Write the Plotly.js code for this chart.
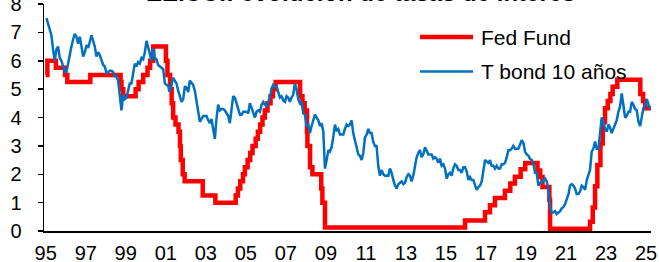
<!DOCTYPE html>
<html>
<head>
<meta charset="utf-8">
<script src="https://cdn.plot.ly/plotly-3.0.1.min.js"></script>
<style>
  html, body { margin: 0; padding: 0; background: #ffffff; }
  #chart { width: 659px; height: 262px; }
</style>
</head>
<body>
<div id="chart"></div>
<script>
// Fed Funds effective rate: dates of changes and level after each change
const fedDates = [
  '1995-01-01','1995-02-01','1995-07-06','1995-12-19','1996-01-31','1997-03-25',
  '1998-09-29','1998-10-15','1998-11-17','1999-06-30','1999-08-24','1999-11-16',
  '2000-02-02','2000-03-21','2000-05-16','2001-01-03','2001-01-31','2001-03-20',
  '2001-04-18','2001-05-15','2001-06-27','2001-08-21','2001-09-17','2001-10-02',
  '2001-11-06','2001-12-11','2002-11-06','2003-06-25','2004-06-30','2004-08-10',
  '2004-09-21','2004-11-10','2004-12-14','2005-02-02','2005-03-22','2005-05-03',
  '2005-06-30','2005-08-09','2005-09-20','2005-11-01','2005-12-13','2006-01-31',
  '2006-03-28','2006-05-10','2006-06-29','2007-09-18','2007-10-31','2007-12-11',
  '2008-01-22','2008-01-30','2008-03-18','2008-04-30','2008-10-08','2008-10-29',
  '2008-12-16','2015-12-16','2016-12-14','2017-03-15','2017-06-14','2017-12-13',
  '2018-03-21','2018-06-13','2018-09-26','2018-12-19','2019-07-31','2019-09-18',
  '2019-10-30','2020-03-03','2020-03-16','2022-03-16','2022-05-04','2022-06-15',
  '2022-07-27','2022-09-21','2022-11-02','2022-12-14','2023-02-01','2023-03-22',
  '2023-05-03','2023-07-26','2024-09-18','2024-11-07','2024-12-18','2025-03-31'
];
const fedRate = [
  5.5, 6.0, 5.75, 5.5, 5.25, 5.5,
  5.25, 5.0, 4.75, 5.0, 5.25, 5.5,
  5.75, 6.0, 6.5, 6.0, 5.5, 5.0,
  4.5, 4.0, 3.75, 3.5, 3.0, 2.5,
  2.0, 1.75, 1.25, 1.0, 1.25, 1.5,
  1.75, 2.0, 2.25, 2.5, 2.75, 3.0,
  3.25, 3.5, 3.75, 4.0, 4.25, 4.5,
  4.75, 5.0, 5.25, 4.75, 4.5, 4.25,
  3.5, 3.0, 2.25, 2.0, 1.5, 1.0,
  0.12, 0.37, 0.66, 0.91, 1.16, 1.42,
  1.67, 1.91, 2.18, 2.40, 2.13, 1.90,
  1.55, 1.10, 0.08, 0.33, 0.83, 1.58,
  2.33, 3.08, 3.83, 4.33, 4.58, 4.83,
  5.08, 5.33, 4.83, 4.58, 4.33, 4.33
];

// 10-year Treasury yield, monthly, starting January 1995
const tbondStartYear = 1995;
const tbond10 = [
  7.5, 7.3, 7.1, 6.9, 6.4, 6.0, 6.4, 6.5, 6.1, 6.0, 5.8, 5.6,        // 1995
  5.6, 5.9, 6.3, 6.5, 6.75, 6.95, 6.85, 6.6, 6.85, 6.5, 6.15, 6.3,   // 1996
  6.55, 6.45, 6.7, 6.9, 6.7, 6.5, 6.15, 6.3, 6.2, 6.0, 5.85, 5.8,    // 1997
  5.55, 5.6, 5.65, 5.65, 5.6, 5.45, 5.45, 5.3, 4.8, 4.25, 4.8, 4.65, // 1998
  4.7, 5.0, 5.2, 5.2, 5.55, 5.9, 5.8, 5.95, 5.9, 6.1, 6.05, 6.3,     // 1999
  6.7, 6.5, 6.25, 6.0, 6.45, 6.1, 6.05, 5.85, 5.8, 5.75, 5.7, 5.2,   // 2000
  5.15, 5.1, 4.9, 5.15, 5.4, 5.3, 5.2, 4.95, 4.7, 4.55, 4.65, 5.1,   // 2001
  5.05, 4.9, 5.3, 5.2, 5.15, 4.95, 4.6, 4.25, 3.85, 3.95, 4.05, 4.05,// 2002
  4.05, 3.9, 3.8, 3.95, 3.55, 3.25, 3.95, 4.45, 4.25, 4.3, 4.3, 4.25,// 2003
  4.15, 4.05, 3.8, 4.35, 4.75, 4.7, 4.5, 4.3, 4.1, 4.1, 4.2, 4.2,    // 2004
  4.2, 4.15, 4.5, 4.35, 4.15, 4.0, 4.2, 4.25, 4.2, 4.45, 4.55, 4.45, // 2005
  4.4, 4.55, 4.7, 5.0, 5.15, 5.1, 5.1, 4.9, 4.7, 4.75, 4.6, 4.55,    // 2006
  4.75, 4.7, 4.55, 4.7, 4.8, 5.2, 5.0, 4.65, 4.5, 4.55, 4.15, 4.1,   // 2007
  3.7, 3.75, 3.45, 3.7, 3.9, 4.1, 4.0, 3.9, 3.7, 3.8, 3.5, 2.2,      // 2008
  2.5, 2.85, 2.8, 2.95, 3.3, 3.75, 3.55, 3.6, 3.4, 3.4, 3.4, 3.6,    // 2009
  3.75, 3.7, 3.75, 3.9, 3.45, 3.2, 3.0, 2.7, 2.65, 2.5, 2.75, 3.3,   // 2010
  3.4, 3.6, 3.45, 3.45, 3.15, 3.0, 3.0, 2.3, 1.95, 2.15, 2.0, 1.95,  // 2011
  1.95, 1.95, 2.2, 2.05, 1.8, 1.6, 1.5, 1.65, 1.7, 1.75, 1.65, 1.7,  // 2012
  1.9, 2.0, 1.95, 1.75, 1.95, 2.3, 2.6, 2.75, 2.85, 2.6, 2.7, 2.95,  // 2013
  2.85, 2.7, 2.7, 2.7, 2.55, 2.6, 2.55, 2.4, 2.55, 2.3, 2.35, 2.2,   // 2014
  1.85, 2.0, 2.05, 1.95, 2.2, 2.35, 2.3, 2.15, 2.15, 2.05, 2.25, 2.25,// 2015
  2.1, 1.8, 1.9, 1.8, 1.8, 1.6, 1.45, 1.55, 1.6, 1.75, 2.15, 2.5,    // 2016
  2.45, 2.4, 2.5, 2.3, 2.3, 2.2, 2.3, 2.2, 2.2, 2.35, 2.35, 2.4,     // 2017
  2.6, 2.85, 2.85, 2.9, 3.0, 2.9, 2.9, 2.9, 3.05, 3.2, 3.1, 2.8,     // 2018
  2.7, 2.65, 2.55, 2.5, 2.4, 2.05, 2.05, 1.6, 1.7, 1.7, 1.8, 1.85,   // 2019
  1.75, 1.45, 0.85, 0.65, 0.65, 0.7, 0.6, 0.65, 0.7, 0.8, 0.85, 0.95,// 2020
  1.1, 1.3, 1.6, 1.65, 1.6, 1.5, 1.3, 1.3, 1.4, 1.6, 1.55, 1.45,     // 2021
  1.8, 1.95, 2.15, 2.8, 2.9, 3.15, 2.9, 2.9, 3.55, 4.0, 3.85, 3.6,   // 2022
  3.5, 3.75, 3.65, 3.45, 3.6, 3.75, 3.9, 4.2, 4.4, 4.85, 4.45, 4.0,  // 2023
  4.05, 4.2, 4.2, 4.55, 4.45, 4.3, 4.25, 3.85, 3.7, 4.1, 4.35, 4.4,  // 2024
  4.65, 4.45, 4.3                                                   // 2025
];

const tickYears = [1995, 1997, 1999, 2001, 2003, 2005, 2007, 2009, 2011, 2013, 2015, 2017, 2019, 2021, 2023, 2025];
const tickText = ['95','97','99','01','03','05','07','09','11','13','15','17','19','21','23','25'];
const seriesNames = ['Fed Fund', 'T bond 10 años'];
const chartTitle = 'EE.UU.: evolución de tasas de interés';

const tbondDates = tbond10.map((v, i) => {
  const y = tbondStartYear + Math.floor(i / 12);
  const m = (i % 12) + 1;
  return y + '-' + String(m).padStart(2, '0') + '-15';
});

const FONT = 'Liberation Sans, Arial, sans-serif';
const RED = '#FF0000';
const BLUE = '#0070C0';

const traces = [
  {
    x: fedDates, y: fedRate, name: seriesNames[0], type: 'scatter', mode: 'lines',
    line: { color: RED, width: 4.5, shape: 'hv' }, showlegend: false, hoverinfo: 'skip'
  },
  {
    x: tbondDates, y: tbond10, name: seriesNames[1], type: 'scatter', mode: 'lines',
    line: { color: BLUE, width: 2.5 }, showlegend: false, hoverinfo: 'skip'
  }
];

// legend drawn as key lines + labels in paper coordinates
const legX0 = (420 - 44) / 607, legX1 = (473 - 44) / 607, legTX = (479 - 44) / 607;
const legY = [(231 - 37) / 227, (231 - 71.5) / 227];

const layout = {
  width: 659, height: 262,
  margin: { l: 44, r: 8, t: 4, b: 31, pad: 0 },
  paper_bgcolor: '#ffffff', plot_bgcolor: '#ffffff',
  font: { family: FONT, color: '#000000', size: 20 },
  showlegend: false,
  xaxis: {
    type: 'date',
    range: ['1994-12-01', '2025-04-01'],
    tickmode: 'array',
    tickvals: tickYears.map(y => y + '-01-01'),
    ticktext: tickText,
    ticks: '', showgrid: false, zeroline: false,
    showline: true, linecolor: '#000000', linewidth: 1.5,
    tickfont: { family: FONT, size: 20, color: '#000000' },
    ticklabelstandoff: 3,
    ticklabeloverflow: 'allow'
  },
  yaxis: {
    range: [0, 8], tickmode: 'linear', tick0: 0, dtick: 1,
    ticks: 'outside', ticklen: 5, tickwidth: 1.5, tickcolor: '#000000',
    showgrid: false, zeroline: false,
    showline: true, linecolor: '#000000', linewidth: 1.5,
    tickfont: { family: FONT, size: 20, color: '#000000' },
    ticklabelstandoff: 12,
    ticklabeloverflow: 'allow'
  },
  shapes: [
    { type: 'line', xref: 'paper', yref: 'paper', x0: legX0, x1: legX1, y0: legY[0], y1: legY[0],
      line: { color: RED, width: 4.5 } },
    { type: 'line', xref: 'paper', yref: 'paper', x0: legX0, x1: legX1, y0: legY[1], y1: legY[1],
      line: { color: BLUE, width: 2.5 } }
  ],
  annotations: [
    { text: seriesNames[0], xref: 'paper', yref: 'paper', x: legTX, y: legY[0],
      xanchor: 'left', yanchor: 'middle', showarrow: false,
      font: { family: FONT, size: 21, color: '#000000' } },
    { text: seriesNames[1], xref: 'paper', yref: 'paper', x: legTX, y: legY[1],
      xanchor: 'left', yanchor: 'middle', showarrow: false,
      font: { family: FONT, size: 21, color: '#000000' } },
    { text: '<b>' + chartTitle + '</b>', xref: 'paper', yref: 'paper',
      x: (360 - 44) / 607, y: 1, xanchor: 'center', yanchor: 'bottom', yshift: -4,
      showarrow: false, font: { family: FONT, size: 24, color: '#000000' } }
  ]
};

Plotly.newPlot('chart', traces, layout, { staticPlot: true, displayModeBar: false });
</script>
</body>
</html>
